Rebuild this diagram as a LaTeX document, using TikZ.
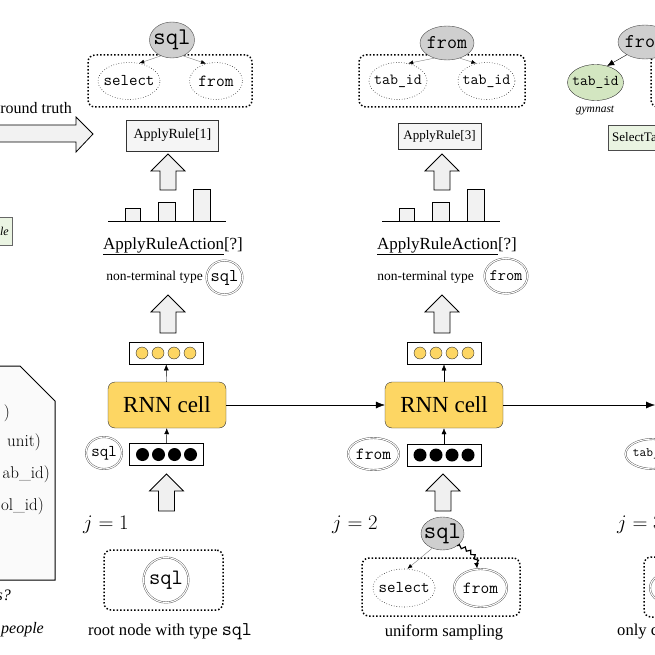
\documentclass[tikz,border=0pt]{standalone}
\usepackage{fontspec}
\newfontfamily\tms{Liberation Serif}
\usetikzlibrary{shapes.geometric,arrows.meta,decorations.pathmorphing,calc}
\definecolor{rnnyellow}{HTML}{FDD663}
\definecolor{nodegray}{HTML}{CFCFCF}
\definecolor{leafgreen}{HTML}{D3E6C1}
\definecolor{boxgreen}{HTML}{EAF4E2}
\newcommand\fs[1]{\fontsize{#1}{#1}\selectfont}
\newcommand\z[1]{\makebox[0pt]{#1}}
\tikzset{pics/fatup/.style={code={\draw[fill=gray!12,line width=0.8pt] (0,0) -- (17,17) -- (8,17) -- (8,#1) -- (-8,#1) -- (-8,17) -- (-17,17) -- cycle;}}}
\begin{document}
\begin{tikzpicture}
	[x=1pt,y=-1pt,
	gnode/.style={ellipse,draw=black!70,fill=nodegray,inner sep=0pt},
	dnode/.style={ellipse,draw=black!85,dotted,line width=0.6pt,fill=white,inner sep=0pt},
	tnode/.style={ellipse,draw=black!70,double,double distance=1.1pt,fill=white,inner sep=0pt},
	cand/.style={draw,dotted,line width=1.5pt,rounded corners=7pt},
	rule/.style={draw=black!80,fill=gray!8,inner sep=0pt},
	rnn/.style={draw=black!80,fill=rnnyellow,rounded corners=7pt,minimum width=118,minimum height=46,font=\tms\fs{23}},
	vec/.style={draw,line width=0.9pt,minimum width=74,minimum height=22,inner sep=0pt},
	ydot/.style={circle,draw=black!80,fill=rnnyellow,minimum size=12,inner sep=0pt},
	bdot/.style={circle,fill=black,minimum size=13,inner sep=0pt},
	txt/.style={inner sep=0pt},
	bar/.style={draw,fill=gray!10},
	child/.style={draw=gray,-{Latex[black,length=5pt,width=4pt]}},
	up/.style={-{Latex[length=6pt,width=5pt]}},
	flow/.style={-{Latex[length=9pt,width=7pt]}}]
	\useasboundingbox (0,0) rectangle (655,655);
	\clip (0,0) rectangle (655,655);
	% left part
	\node[txt,anchor=east,font=\tms\fs{16}] (gt) at (72,110) {ground truth};
	\draw[line width=0.8pt,fill=gray!10] (-10,125) -- (76,125) -- (76,117) -- (93,134) -- (76,152) -- (76,142) -- (-10,142) -- cycle;
	\node[draw=black!60,fill=boxgreen,anchor=east,minimum height=28,inner sep=3pt,font=\tms\itshape\fs{12}] (ex) at (12,231) {le};
	\draw[line width=1pt,fill=gray!4] (-10,366) -- (20,366) -- (55,401) -- (55,580) -- (-10,580) -- cycle;
	\node[txt,anchor=east,font=\fs{17}] (dA) at (10,413) {)};
	\node[txt,anchor=east,font=\fs{17}] (dB) at (41,442) {unit)};
	\node[txt,anchor=east,font=\fs{17}] (dC) at (50,474) {ab\_id)};
	\node[txt,anchor=east,font=\fs{17}] (dD) at (44,506) {ol\_id)};
	\node[txt,anchor=east,font=\tms\itshape\fs{16}] (qs) at (11,595) {s?};
	\node[txt,anchor=east,font=\tms\itshape\fs{16}] (pp) at (44,630) {people};
	% step j=1
	\node[cand,minimum width=164,minimum height=52] (candA) at (170,81) {};
	\node[gnode,minimum width=45,minimum height=36,font=\ttfamily\fs{24}] (sqlA) at (172,40) {\z{sql}};
	\node[dnode,minimum width=62,minimum height=37,font=\ttfamily\fs{16.5}] (selA) at (129,81) {\z{select}};
	\node[dnode,minimum width=53,minimum height=37,font=\ttfamily\fs{17}] (fromA) at (216,81) {\z{from}};
	\draw[child] (sqlA.235) -- (selA.60);
	\draw[child] (sqlA.305) -- (fromA.120);
	\node[rule,minimum width=92,minimum height=31,font=\tms\fs{14}] (ruleA) at (172.5,135.5) {ApplyRule[1]};
	\pic at (168,154) {fatup=36};
	\draw[bar] (125,221) rectangle (140,208);
	\draw[bar] (158,221) rectangle (175,202);
	\draw[bar] (193,221) rectangle (210,189);
	\draw[thick] (108,221) -- (226,221);
	\node[txt,font=\tms\fs{17}] (actA) at (173,246) {\underline{ApplyRuleAction}[?]};
	\node[txt,anchor=east,font=\tms\fs{13.5}] (ntA) at (203,277) {non-terminal type};
	\node[tnode,minimum width=36,minimum height=34,font=\ttfamily\fs{18}] (typA) at (224.5,277.5) {\z{sql}};
	\pic at (168,295) {fatup=38};
	\node[vec] (outA) at (166,353) {};
	\foreach \i/\dx in {1/-24,2/-8,3/8,4/24}
		\node[ydot] (outA\i) at ($(outA)+(\dx,0)$) {};
	\node[rnn] (rnnA) at (167,405) {RNN cell};
	\draw[up] (rnnA) -- (outA);
	\node[vec] (inA) at (166.5,454.5) {};
	\foreach \i/\dx in {1/-24,2/-8,3/8,4/24}
		\node[bdot] (inA\i) at ($(inA)+(\dx,0)$) {};
	\draw[up] (inA) -- (rnnA);
	\node[tnode,minimum width=36,minimum height=32,font=\ttfamily\fs{16.5}] (typA2) at (104,453) {\z{sql}};
	\pic at (166.5,474) {fatup=37};
	\node[txt,font=\fs{20}] (jA) at (106,525) {$j=1$};
	\node[cand,minimum width=119,minimum height=60] (rootA) at (163.5,580) {};
	\node[tnode,minimum width=45,minimum height=45,font=\ttfamily\fs{22}] (sqlR) at (166,580) {\z{sql}};
	\node[txt,font=\tms\fs{16.6}] (capA) at (170,632) {root node with type \texttt{\fs{19.5}sql}};
	% step j=2
	\node[cand,minimum width=166,minimum height=52] (candB) at (442,81) {};
	\node[gnode,minimum width=54,minimum height=34,font=\ttfamily\fs{19.5}] (fromB) at (447,43) {\z{from}};
	\node[dnode,minimum width=58,minimum height=37,font=\ttfamily\fs{15.5}] (tabB1) at (398,81) {\z{tab\_id}};
	\node[dnode,minimum width=57,minimum height=37,font=\ttfamily\fs{15.5}] (tabB2) at (486.5,81) {\z{tab\_id}};
	\draw[child] (fromB.230) -- (tabB1.60);
	\draw[child] (fromB.310) -- (tabB2.120);
	\node[rule,minimum width=83,minimum height=26,font=\tms\fs{13}] (ruleB) at (439.5,136) {ApplyRule[3]};
	\pic at (442,154) {fatup=36};
	\draw[bar] (399,221) rectangle (414,208);
	\draw[bar] (432,221) rectangle (449,202);
	\draw[bar] (467,221) rectangle (484,189);
	\draw[thick] (382,221) -- (500,221);
	\node[txt,font=\tms\fs{17}] (actB) at (447,246) {\underline{ApplyRuleAction}[?]};
	\node[txt,anchor=east,font=\tms\fs{13.5}] (ntB) at (474,277) {non-terminal type};
	\node[tnode,minimum width=43,minimum height=35,font=\ttfamily\fs{16}] (typB) at (506,276) {\z{from}};
	\pic at (442,295) {fatup=38};
	\node[vec] (outB) at (444,353) {};
	\foreach \i/\dx in {1/-24,2/-8,3/8,4/24}
		\node[ydot] (outB\i) at ($(outB)+(\dx,0)$) {};
	\node[rnn] (rnnB) at (444,405) {RNN cell};
	\draw[up] (rnnB) -- (outB);
	\node[vec] (inB) at (444,455) {};
	\foreach \i/\dx in {1/-24,2/-8,3/8,4/24}
		\node[bdot] (inB\i) at ($(inB)+(\dx,0)$) {};
	\draw[up] (inB) -- (rnnB);
	\node[tnode,minimum width=51,minimum height=32,font=\ttfamily\fs{17}] (typB2) at (373.5,454) {\z{from}};
	\pic at (443,474) {fatup=37};
	\node[txt,font=\fs{20}] (jB) at (355,525) {$j=2$};
	\node[cand,minimum width=158,minimum height=58] (sampB) at (441,587) {};
	\node[gnode,minimum width=43,minimum height=33,font=\ttfamily\fs{24}] (sqlB) at (442.5,533.5) {\z{sql}};
	\node[dnode,minimum width=62,minimum height=38,font=\ttfamily\fs{16.5}] (selB) at (404,588) {\z{select}};
	\node[tnode,minimum width=53,minimum height=38,font=\ttfamily\fs{17}] (fromB2) at (480.5,588) {\z{from}};
	\draw[child] (sqlB.235) -- (selB.80);
	\draw[line width=1.2pt,decorate,decoration={snake,amplitude=1.6pt,segment length=6pt,post length=5pt},-{Latex[length=6pt,width=5pt]}] (sqlB.320) to[out=-15,in=90] (fromB2.100);
	\node[txt,font=\tms\fs{16.6}] (capB) at (444,632) {uniform sampling};
	% step j=3
	\draw[flow] (rnnA) -- (rnnB);
	\coordinate (rnnC) at (655,405);
	\draw[flow] (rnnB) -- (rnnC);
	\node[cand,minimum width=164,minimum height=52] (candC) at (733,81) {};
	\node[gnode,minimum width=54,minimum height=34,font=\ttfamily\fs{19.5}] (fromC) at (645,42) {\z{from}};
	\node[ellipse,draw=black!80,fill=leafgreen,inner sep=0pt,minimum width=56,minimum height=36,font=\ttfamily\fs{15}] (tabC) at (595.5,82.5) {\z{tab\_id}};
	\draw[-{Latex[length=7pt,width=6pt]}] (fromC.215) -- (tabC.55);
	\node[txt,font=\tms\itshape\fs{11.5}] (gym) at (595,111) {gymnast};
	\node[draw=black!70,fill=boxgreen,anchor=west,minimum height=25,inner sep=4pt,font=\tms\fs{13}] (selC) at (608,137.5) {SelectTa\hspace{30pt}};
	\node[tnode,minimum width=55,minimum height=30,font=\ttfamily\fs{13}] (typC) at (653,454) {\z{tab\_id}};
	\node[txt,anchor=west,font=\fs{20}] (jC) at (617,525) {$j=3$};
	\node[cand,minimum width=120,minimum height=60] (sampC) at (704,587) {};
	\node[tnode,minimum width=50,minimum height=34] (leafC) at (675,588) {};
	\node[txt,anchor=west,font=\tms\fs{16.6}] (capC) at (617,632) {only c};
\end{tikzpicture}
\end{document}
